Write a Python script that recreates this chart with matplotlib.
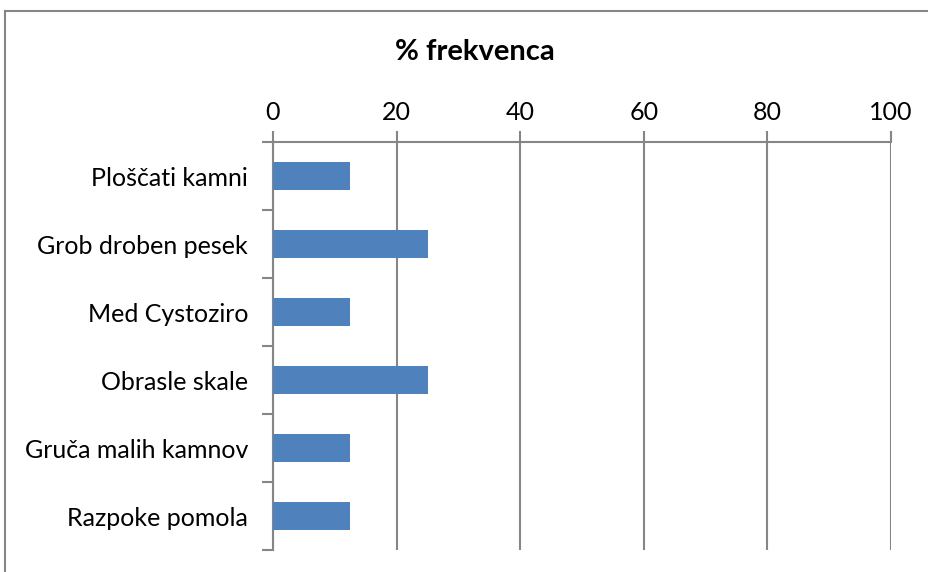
import matplotlib.pyplot as plt
from matplotlib.lines import Line2D
import numpy as np

plt.rcParams['font.family'] = ['Lato', 'DejaVu Sans']

categories = ["Ploščati kamni", "Grob droben pesek", "Med Cystoziro",
              "Obrasle skale", "Gruča malih kamnov", "Razpoke pomola"]
values = [12.5, 25, 12.5, 25, 12.5, 12.5]
xticks = [0, 20, 40, 60, 80, 100]

grid_col = "#868686"
bar_col = "#4F81BD"

fig = plt.figure(figsize=(9.29, 5.72), dpi=100)
ax = fig.add_axes([273 / 929, 1 - 550 / 572, (891 - 273) / 929, (550 - 142) / 572])

y = np.arange(len(categories))
ax.barh(y, values, height=0.4, color=bar_col, zorder=3)

ax.set_xlim(0, 100)
ax.set_ylim(len(categories) - 0.5, -0.5)

# x axis on top, ticks outward with gridlines
ax.xaxis.tick_top()
ax.set_xticks(xticks)
ax.set_xticklabels([str(v) for v in xticks], fontsize=18)
ax.tick_params(axis='x', which='major', length=8, width=1.5, color=grid_col, pad=5)
ax.grid(axis='x', color=grid_col, linewidth=1.5, zorder=1)

# category labels at centres, tick marks at boundaries
ax.set_yticks(np.arange(-0.5, len(categories)), minor=False)
ax.set_yticklabels([])
ax.set_yticks(y, minor=True)
ax.set_yticklabels(categories, minor=True, fontsize=18)
ax.tick_params(axis='y', which='major', length=8, width=1.5, color=grid_col)
ax.tick_params(axis='y', which='minor', length=0, pad=18)

for s in ['right', 'bottom']:
    ax.spines[s].set_visible(False)
for s in ['left', 'top']:
    ax.spines[s].set_color(grid_col)
    ax.spines[s].set_linewidth(1.5)

fig.text(475 / 929, 1 - 52 / 572, "% frekvenca", ha='center', va='center',
         fontsize=21, fontweight='bold')

# outer chart border (only top and left visible)
fig.add_artist(Line2D([5 / 929, 1], [1 - 11 / 572, 1 - 11 / 572],
                      transform=fig.transFigure, color=grid_col, linewidth=1.5))
fig.add_artist(Line2D([5 / 929, 5 / 929], [0, 1 - 11 / 572],
                      transform=fig.transFigure, color=grid_col, linewidth=1.5))

fig.savefig("out.png", dpi=100)
